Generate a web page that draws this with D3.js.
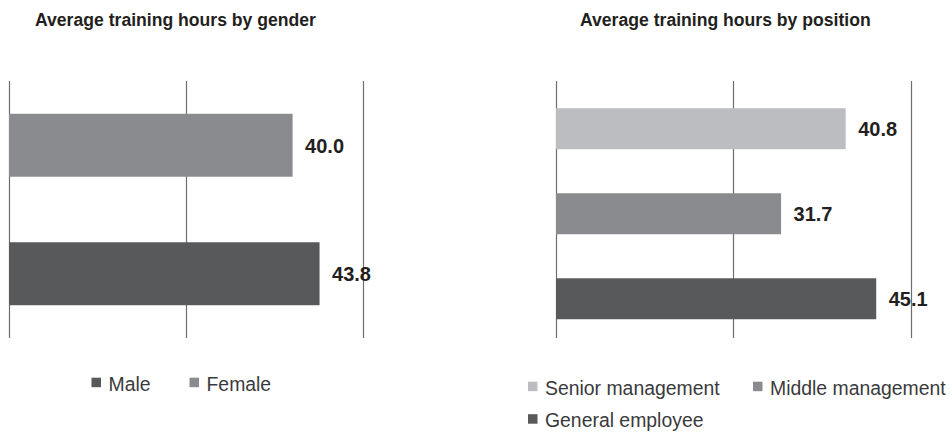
<!DOCTYPE html>
<html>
<head>
<meta charset="utf-8">
<script src="https://cdn.jsdelivr.net/npm/d3@7"></script>
<style>
	html, body { margin:0; padding:0; background:#fff; }
	svg { display:block; font-family: "Liberation Sans", Arial, Helvetica, sans-serif; }
</style>
</head>
<body>
<div id="chart"></div>
<script>
// data
const genderCategories = ['Female', 'Male'];
const genderValues = [40.0, 43.8];
const genderLegend = ['Male', 'Female'];

const positionCategories = ['Senior management', 'Middle management', 'General employee'];
const positionValues = [40.8, 31.7, 45.1];
const positionLegend = ['Senior management', 'Middle management', 'General employee'];

const xTicks = [0, 25, 50];

const colors = {
	'Female':'#8a8b8e',
	'Male':'#58595b',
	'Senior management':'#bcbdc0',
	'Middle management':'#8a8b8e',
	'General employee':'#58595b'
};

const W = 952, H = 434;

const svg = d3.select('#chart').append('svg')
	.attr('width', W)
	.attr('height', H)
	.attr('viewBox', [0, 0, W, H]);

class BarPanel{
	constructor({title, categories, values, legend, layout}){
		this._title = title;
		this._categories = categories;
		this._values = values;
		this._legend = legend;
		this._l = layout;
		this.g = svg.append('g');
		this.x = d3.scaleLinear().domain([0, 50]).range(layout.xRange);
		this.y = d3.scaleBand()
			.domain(categories)
			.range(layout.bandRange)
			.paddingInner(layout.padInner)
			.paddingOuter(layout.padOuter);
	}

	_makeTitle(){
		this.g.append('text')
			.attr('x', this._l.titleX)
			.attr('y', 26)
			.attr('font-size', '17.6px')
			.attr('font-weight', 'bold')
			.attr('fill', '#231f20')
			.text(this._title);
	}

	_makeGrid(){
		this.g.selectAll('.grid')
			.data(xTicks)
			.join('line')
			.attr('class', 'grid')
			.attr('x1', d => Math.round(this.x(d)) + 0.5)
			.attr('x2', d => Math.round(this.x(d)) + 0.5)
			.attr('y1', this._l.gridTop)
			.attr('y2', this._l.gridBottom)
			.attr('stroke', '#6d6e71')
			.attr('stroke-width', 1.2);
	}

	_makeBars(){
		const data = this._categories.map((c, i) => ({name:c, value:this._values[i]}));
		this.g.selectAll('.bar')
			.data(data)
			.join('rect')
			.attr('class', 'bar')
			.attr('x', this.x(0) + 0.5)
			.attr('y', d => this.y(d.name))
			.attr('width', d => this.x(d.value) - this.x(0))
			.attr('height', this.y.bandwidth())
			.attr('fill', d => colors[d.name]);

		this.g.selectAll('.val')
			.data(data)
			.join('text')
			.attr('class', 'val')
			.attr('x', d => this.x(d.value) + 13)
			.attr('y', d => this.y(d.name) + this.y.bandwidth() / 2)
			.attr('dy', '0.38em')
			.attr('font-size', '20px')
			.attr('font-weight', 'bold')
			.attr('fill', '#231f20')
			.text(d => d3.format('.1f')(d.value));
	}

	_makeLegend(){
		const items = this._legend.map((name, i) => ({name:name, pos:this._l.legendPos[i]}));
		const item = this.g.selectAll('.legend')
			.data(items)
			.join('g')
			.attr('class', 'legend')
			.attr('transform', d => `translate(${d.pos[0]},${d.pos[1]})`);
		item.append('rect')
			.attr('x', 0)
			.attr('y', -12.8)
			.attr('width', 9.5)
			.attr('height', 9.5)
			.attr('fill', d => colors[d.name]);
		item.append('text')
			.attr('x', 17)
			.attr('y', 0)
			.attr('font-size', '19.4px')
			.attr('fill', '#3a3a3c')
			.text(d => d.name);
	}

	render(){
		this._makeTitle();
		this._makeGrid();
		this._makeBars();
		this._makeLegend();
	}
}

const genderPanel = new BarPanel({
	title:'Average training hours by gender',
	categories:genderCategories,
	values:genderValues,
	legend:genderLegend,
	layout:{
		titleX:35,
		xRange:[8.5, 363],
		bandRange:[81, 338],
		padInner:0.51,
		padOuter:0.255,
		gridTop:81,
		gridBottom:338,
		legendPos:[[91.5, 390.5], [189.5, 390.5]]
	}
});
genderPanel.render();

const positionPanel = new BarPanel({
	title:'Average training hours by position',
	categories:positionCategories,
	values:positionValues,
	legend:positionLegend,
	layout:{
		titleX:580,
		xRange:[555.5, 910.5],
		bandRange:[87, 340.5],
		padInner:0.518,
		padOuter:0.25,
		gridTop:81,
		gridBottom:338,
		legendPos:[[528, 394.5], [753, 394.5], [528, 427]]
	}
});
positionPanel.render();
</script>
</body>
</html>
